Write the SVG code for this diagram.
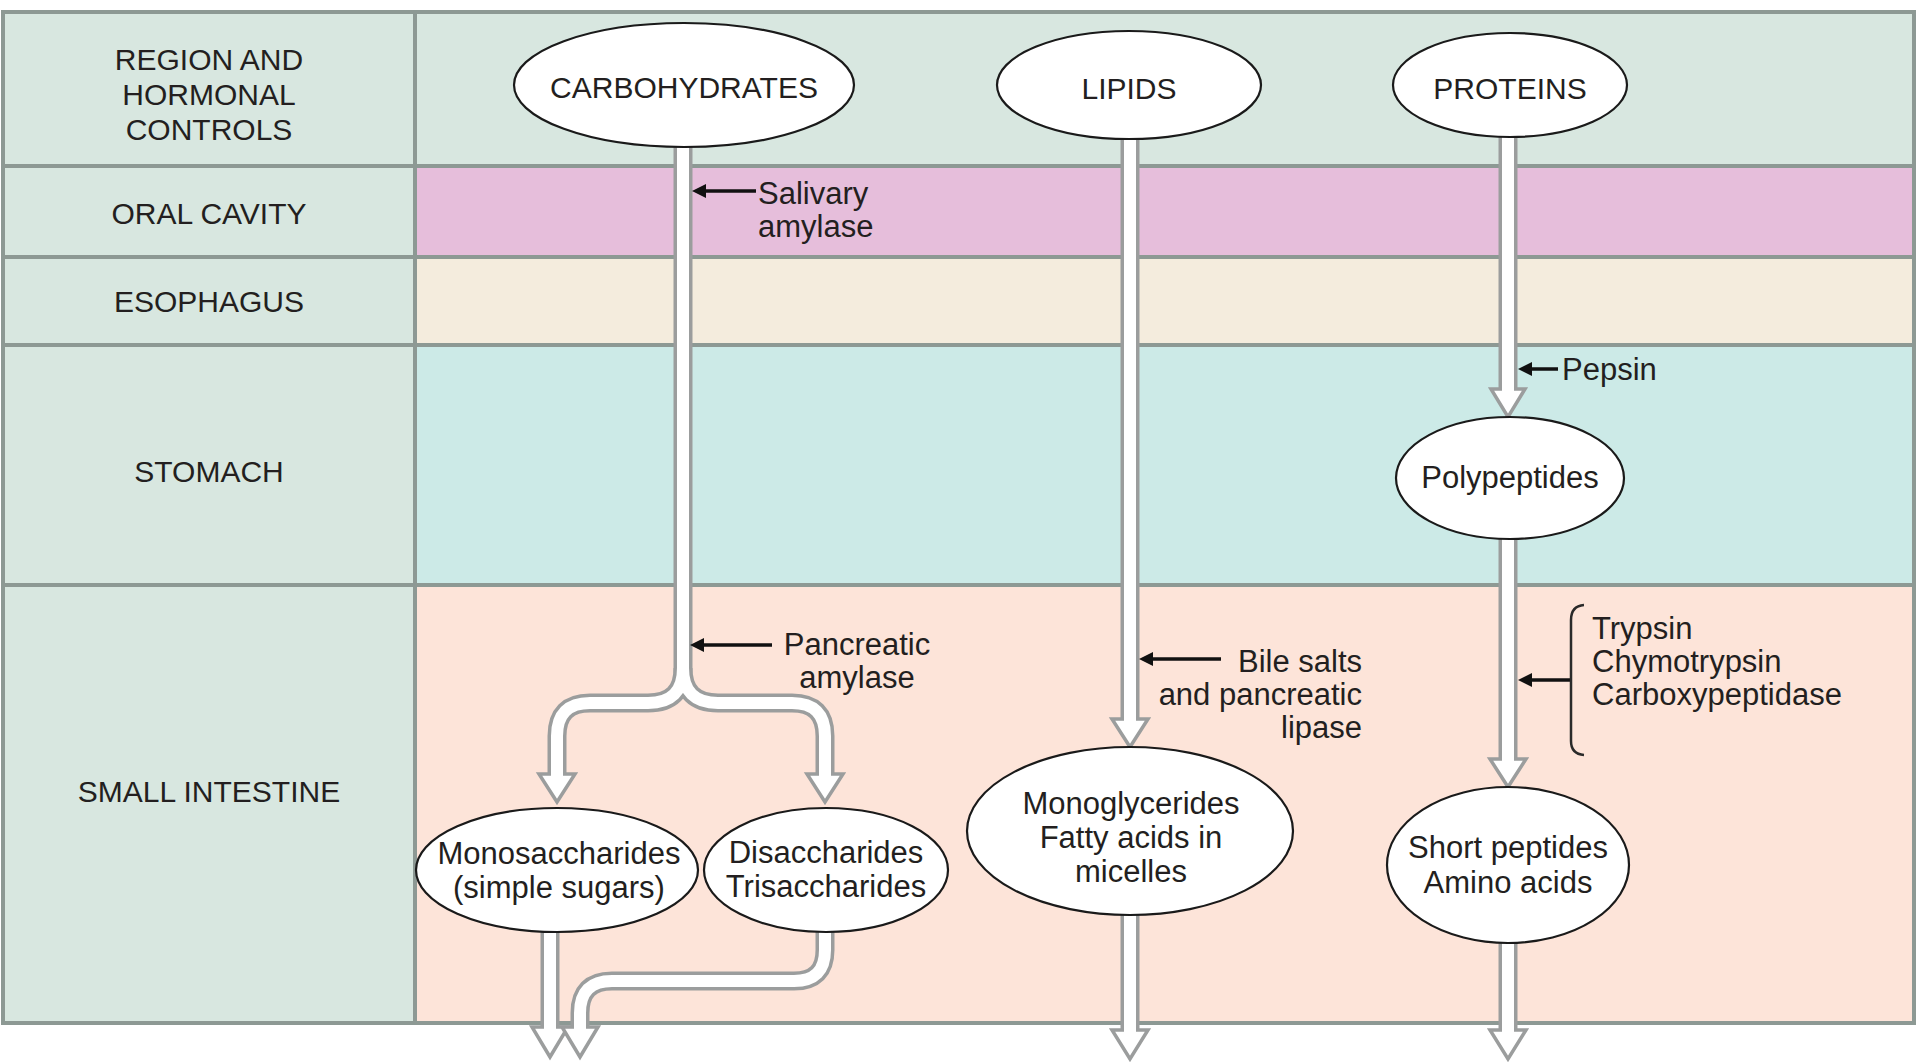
<svg xmlns="http://www.w3.org/2000/svg" width="1920" height="1063" viewBox="0 0 1920 1063">
<defs>
<style>
.t{font-family:"Liberation Sans",Arial,Helvetica,sans-serif;fill:#231f20}
.cap{font-size:30px}
.lbl{font-size:31px}
.mid{text-anchor:middle}
.end{text-anchor:end}
.grid{stroke:#8d9994;stroke-width:4;fill:none}
.node{fill:#ffffff;stroke:#1a1a1a;stroke-width:2.2}
.pg{fill:none;stroke:#9b9d9d;stroke-width:19}
.pw{fill:none;stroke:#ffffff;stroke-width:12}
.head{fill:#ffffff;stroke:#9b9d9d;stroke-width:3.5;stroke-linejoin:miter}
.enz{stroke:#111;stroke-width:3.5;fill:none}
.ehead{fill:#111}
.brace{stroke:#2a2a2a;stroke-width:2.5;fill:none}
</style>
</defs>

<rect x="0" y="0" width="1920" height="1063" fill="#ffffff"/>

<g id="table">
<rect x="3" y="12" width="1911" height="1011" fill="#d8e7e0"/>
<rect x="415" y="166" width="1499" height="91" fill="#e6bedb"/>
<rect x="415" y="257" width="1499" height="88" fill="#f4ecdd"/>
<rect x="415" y="345" width="1499" height="240" fill="#cceae7"/>
<rect x="415" y="585" width="1499" height="438" fill="#fde4d9"/>
<path class="grid" d="M3,166 H1914 M3,257 H1914 M3,345 H1914 M3,585 H1914 M415,12 V1023"/>
<rect class="grid" x="3" y="12" width="1911" height="1011"/>
</g>

<g id="row-labels">
<g id="lbl-region"><text class="t cap mid" x="209" y="70">REGION AND</text><text class="t cap mid" x="209" y="105">HORMONAL</text><text class="t cap mid" x="209" y="140">CONTROLS</text></g>
<g id="lbl-oral"><text class="t cap mid" x="209" y="224">ORAL CAVITY</text></g>
<g id="lbl-esophagus"><text class="t cap mid" x="209" y="312">ESOPHAGUS</text></g>
<g id="lbl-stomach"><text class="t cap mid" x="209" y="482">STOMACH</text></g>
<g id="lbl-small-intestine"><text class="t cap mid" x="209" y="802">SMALL INTESTINE</text></g>
</g>

<g id="connectors">
<!-- gray outlines of pipes -->
<path class="pg" d="M683,85 V668 Q683,703 648,703 H590 Q557,703 557,736 V776"/>
<path class="pg" d="M683,668 Q683,703 718,703 H792 Q825,703 825,736 V776"/>
<path class="pg" d="M1130,85 V721"/>
<path class="pg" d="M1508,85 V391"/>
<path class="pg" d="M1508,478 V761"/>
<path class="pg" d="M550,870 V1029"/>
<path class="pg" d="M825,870 V950 Q825,981 794,981 H612 Q580,981 580,1013 V1029"/>
<path class="pg" d="M1130,831 V1032"/>
<path class="pg" d="M1508,865 V1032"/>
<!-- hollow arrowheads -->
<polygon class="head" points="539,774 575,774 557,802"/>
<polygon class="head" points="807,774 843,774 825,802"/>
<polygon class="head" points="1112,719 1148,719 1130,747"/>
<polygon class="head" points="1491,389 1525,389 1508,417"/>
<polygon class="head" points="1490,759 1526,759 1508,787"/>
<polygon class="head" points="532,1027 568,1027 550,1057"/>
<polygon class="head" points="1112,1030 1148,1030 1130,1059"/>
<polygon class="head" points="1490,1030 1526,1030 1508,1059"/>
<!-- white pipe cores -->
<path class="pw" d="M683,85 V668 Q683,703 648,703 H590 Q557,703 557,736 V779"/>
<path class="pw" d="M683,668 Q683,703 718,703 H792 Q825,703 825,736 V779"/>
<path class="pw" d="M1130,85 V724"/>
<path class="pw" d="M1508,85 V394"/>
<path class="pw" d="M1508,478 V764"/>
<path class="pw" d="M550,870 V1032"/>
<path class="pw" d="M1130,831 V1035"/>
<path class="pw" d="M1508,865 V1035"/>
<polygon class="head" points="562,1027 598,1027 580,1057"/>
<path class="pw" d="M825,870 V950 Q825,981 794,981 H612 Q580,981 580,1013 V1032"/>
<!-- enzyme arrows -->
<line class="enz" x1="756" y1="191" x2="702" y2="191"/>
<polygon class="ehead" points="692,191 706,184 706,198"/>
<line class="enz" x1="1558" y1="369" x2="1528" y2="369"/>
<polygon class="ehead" points="1518,369 1532,362 1532,376"/>
<line class="enz" x1="772" y1="645" x2="700" y2="645"/>
<polygon class="ehead" points="690,645 704,638 704,652"/>
<line class="enz" x1="1221" y1="659" x2="1149" y2="659"/>
<polygon class="ehead" points="1139,659 1153,652 1153,666"/>
<line class="enz" x1="1571" y1="680" x2="1528" y2="680"/>
<polygon class="ehead" points="1518,680 1532,673 1532,687"/>
<path class="brace" d="M1584,605 Q1571,606 1571,620 V741 Q1571,754 1584,755"/>
</g>

<g id="enzyme-labels">
<g id="lbl-salivary"><text class="t lbl" x="758" y="204">Salivary</text><text class="t lbl" x="758" y="237">amylase</text></g>
<g id="lbl-pepsin"><text class="t lbl" x="1562" y="380">Pepsin</text></g>
<g id="lbl-pancreatic-amylase"><text class="t lbl mid" x="857" y="655">Pancreatic</text><text class="t lbl mid" x="857" y="688">amylase</text></g>
<g id="lbl-bile"><text class="t lbl end" x="1362" y="672">Bile salts</text><text class="t lbl end" x="1362" y="705">and pancreatic</text><text class="t lbl end" x="1362" y="738">lipase</text></g>
<g id="lbl-proteases"><text class="t lbl" x="1592" y="639">Trypsin</text><text class="t lbl" x="1592" y="672">Chymotrypsin</text><text class="t lbl" x="1592" y="705">Carboxypeptidase</text></g>
</g>

<g id="node-carbohydrates"><ellipse class="node" cx="684" cy="85" rx="170" ry="62"/><text class="t cap mid" x="684" y="98">CARBOHYDRATES</text></g>
<g id="node-lipids"><ellipse class="node" cx="1129" cy="85" rx="132" ry="54"/><text class="t cap mid" x="1129" y="99">LIPIDS</text></g>
<g id="node-proteins"><ellipse class="node" cx="1510" cy="85" rx="117" ry="52"/><text class="t cap mid" x="1510" y="99">PROTEINS</text></g>
<g id="node-polypeptides"><ellipse class="node" cx="1510" cy="478" rx="114" ry="61"/><text class="t lbl mid" x="1510" y="488">Polypeptides</text></g>
<g id="node-monosaccharides"><ellipse class="node" cx="557" cy="870" rx="141" ry="62"/><text class="t lbl mid" x="559" y="864">Monosaccharides</text><text class="t lbl mid" x="559" y="898">(simple sugars)</text></g>
<g id="node-disaccharides"><ellipse class="node" cx="826" cy="870" rx="122" ry="62"/><text class="t lbl mid" x="826" y="863">Disaccharides</text><text class="t lbl mid" x="826" y="897">Trisaccharides</text></g>
<g id="node-monoglycerides"><ellipse class="node" cx="1130" cy="831" rx="163" ry="84"/><text class="t lbl mid" x="1131" y="814">Monoglycerides</text><text class="t lbl mid" x="1131" y="848">Fatty acids in</text><text class="t lbl mid" x="1131" y="882">micelles</text></g>
<g id="node-short-peptides"><ellipse class="node" cx="1508" cy="865" rx="121" ry="78"/><text class="t lbl mid" x="1508" y="858">Short peptides</text><text class="t lbl mid" x="1508" y="893">Amino acids</text></g>
</svg>
